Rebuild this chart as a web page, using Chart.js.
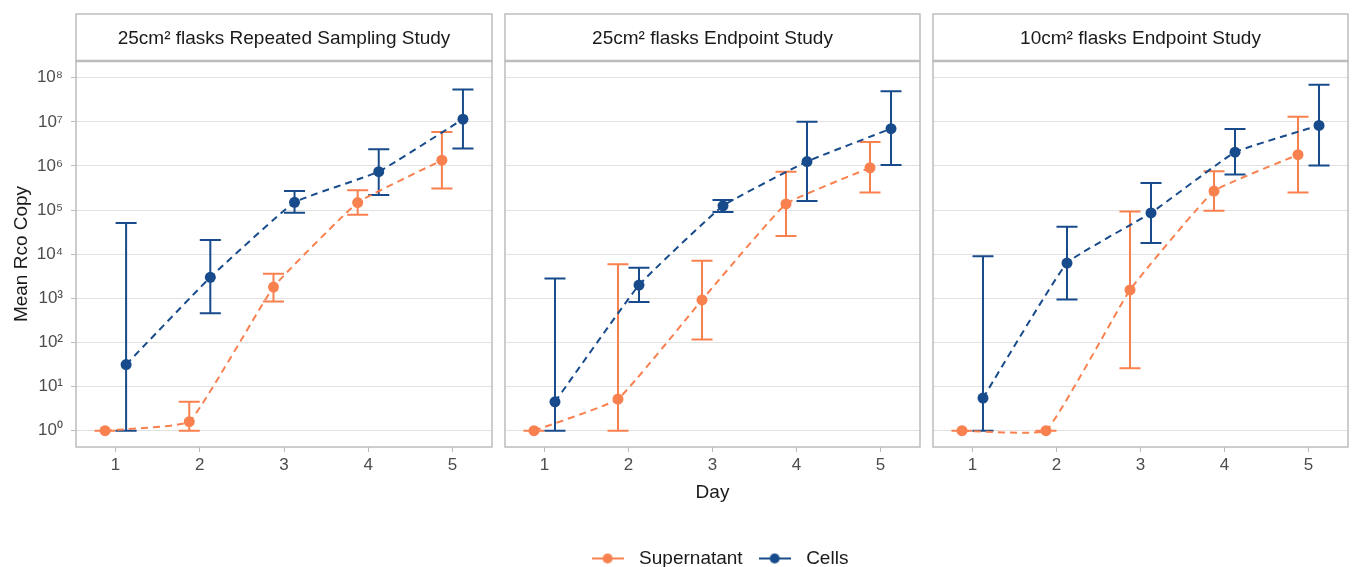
<!DOCTYPE html>
<html>
<head>
<meta charset="utf-8">
<script src="https://cdn.jsdelivr.net/npm/chart.js@4"></script>
<style>
html, body { margin: 0; padding: 0; background: #ffffff; overflow: hidden; width: 1354px; height: 567px; }
canvas { position: absolute; left: 0; top: 0; }
</style>
</head>
<body>
<canvas id="c1" width="1354" height="567"></canvas>
<canvas id="c2" width="1354" height="578"></canvas>
<canvas id="c3" width="1354" height="567"></canvas>
<script>
// ---------------- DATA ----------------
const days = [1, 2, 3, 4, 5];
const seriesNames = ["Supernatant", "Cells"];
const panelTitles = [
  "25cm\u00B2 flasks Repeated Sampling Study",
  "25cm\u00B2 flasks Endpoint Study",
  "10cm\u00B2 flasks Endpoint Study"
];
const yTickValues = [1, 10, 100, 1e3, 1e4, 1e5, 1e6, 1e7, 1e8];
const xTickValues = [1, 2, 3, 4, 5];
const xAxisTitle = "Day";
const yAxisTitle = "Mean Rco Copy";

// Panel 1: 25cm2 flasks Repeated Sampling Study
const p1SupMean  = [1, 1.6, 1800, 1.48e5, 1.35e6];
const p1SupLow   = [1, 1, 850, 7.8e4, 3.1e5];
const p1SupHigh  = [1, 4.5, 3600, 2.8e5, 5.9e6];
const p1CellMean = [31.6, 3000, 1.5e5, 7.4e5, 1.15e7];
const p1CellLow  = [1, 460, 8.7e4, 2.2e5, 2.5e6];
const p1CellHigh = [5.1e4, 2.1e4, 2.7e5, 2.4e6, 5.4e7];

// Panel 2: 25cm2 flasks Endpoint Study
const p2SupMean  = [1, 5.2, 920, 1.38e5, 9.1e5];
const p2SupLow   = [1, 1, 116, 2.6e4, 2.5e5];
const p2SupHigh  = [1, 5900, 7100, 7.4e5, 3.5e6];
const p2CellMean = [4.5, 2000, 1.25e5, 1.26e6, 7.0e6];
const p2CellLow  = [1, 830, 9.1e4, 1.6e5, 1.05e6];
const p2CellHigh = [2800, 4900, 1.7e5, 1.0e7, 4.9e7];

// Panel 3: 10cm2 flasks Endpoint Study
const p3SupMean  = [1, 1, 1550, 2.7e5, 1.8e6];
const p3SupLow   = [1, 1, 26, 9.6e4, 2.5e5];
const p3SupHigh  = [1, 1, 9.3e4, 7.6e5, 1.3e7];
const p3CellMean = [5.5, 6300, 8.6e4, 2.05e6, 8.3e6];
const p3CellLow  = [1, 940, 1.8e4, 6.4e5, 1.02e6];
const p3CellHigh = [9000, 4.2e4, 4.1e5, 6.9e6, 6.9e7];

// ---------------- STYLE / LAYOUT ----------------
const FONT = "'Liberation Sans', Arial, Helvetica, sans-serif";
const COLORS = ["#F9804F", "#174B8B"];
const DODGE = [-0.125, 0.125];
const CAP_HALF = 0.125;
const X_MIN = 0.53, X_MAX = 5.47;
const Y_MIN = 0.427, Y_MAX = 2.39e8;
const W = 1354, H = 567;
const PANEL_LEFT = [76, 505, 933];
const PANEL_RIGHT = [492, 920, 1348];
const STRIP_TOP = 14, PLOT_TOP = 61, PLOT_BOTTOM = 447;
const FRAME_COLOR = "#bdbdbd";
const GRID_COLOR = "#e2e2e2";
const TICK_TEXT = "#4d4d4d";
const TITLE_TEXT = "#1a1a1a";

const panels = [
  { title: panelTitles[0], series: [
    { mean: p1SupMean, low: p1SupLow, high: p1SupHigh },
    { mean: p1CellMean, low: p1CellLow, high: p1CellHigh } ] },
  { title: panelTitles[1], series: [
    { mean: p2SupMean, low: p2SupLow, high: p2SupHigh },
    { mean: p2CellMean, low: p2CellLow, high: p2CellHigh } ] },
  { title: panelTitles[2], series: [
    { mean: p3SupMean, low: p3SupLow, high: p3SupHigh },
    { mean: p3CellMean, low: p3CellLow, high: p3CellHigh } ] }
];

const SUP = { "0": "\u2070", "1": "\u00B9", "2": "\u00B2", "3": "\u00B3", "4": "\u2074",
              "5": "\u2075", "6": "\u2076", "7": "\u2077", "8": "\u2078", "9": "\u2079", "-": "\u207B" };
function powLabel(v) {
  const e = Math.round(Math.log10(v));
  return "10" + String(e).split("").map(c => SUP[c]).join("");
}

function makeIcon(color) {
  const c = document.createElement("canvas");
  c.width = 32; c.height = 12;
  const g = c.getContext("2d");
  g.strokeStyle = color; g.lineWidth = 2;
  g.beginPath(); g.moveTo(0, 6); g.lineTo(32, 6); g.stroke();
  g.fillStyle = color;
  g.beginPath(); g.arc(16, 6, 5, 0, Math.PI * 2); g.fill();
  return c;
}
const legendIcons = COLORS.map(makeIcon);

function framePlugin(panel) {
  return {
    id: "frameAndErrors",
    beforeDatasetsDraw(chart) {
      const { ctx, chartArea: a, scales: { x, y } } = chart;
      ctx.save();
      // panel border
      ctx.strokeStyle = FRAME_COLOR; ctx.lineWidth = 1.5;
      ctx.strokeRect(a.left, a.top, a.right - a.left, a.bottom - a.top);
      // strip
      ctx.fillStyle = "#ffffff";
      ctx.fillRect(a.left, STRIP_TOP, a.right - a.left, a.top - STRIP_TOP);
      ctx.strokeRect(a.left, STRIP_TOP, a.right - a.left, a.top - STRIP_TOP);
      ctx.beginPath(); ctx.lineWidth = 2.5; ctx.moveTo(a.left, a.top); ctx.lineTo(a.right, a.top); ctx.stroke();
      ctx.fillStyle = TITLE_TEXT;
      ctx.font = "19px " + FONT;
      ctx.textAlign = "center"; ctx.textBaseline = "middle";
      ctx.fillText(panel.title, (a.left + a.right) / 2, (STRIP_TOP + a.top) / 2 + 1);
      // error bars
      ctx.lineWidth = 2;
      panel.series.forEach((s, si) => {
        ctx.strokeStyle = COLORS[si];
        days.forEach((d, i) => {
          const xv = d + DODGE[si];
          const xc = x.getPixelForValue(xv);
          const xl = x.getPixelForValue(xv - CAP_HALF);
          const xr = x.getPixelForValue(xv + CAP_HALF);
          const yl = y.getPixelForValue(s.low[i]);
          const yh = y.getPixelForValue(s.high[i]);
          ctx.beginPath();
          ctx.moveTo(xc, yl); ctx.lineTo(xc, yh);
          ctx.moveTo(xl, yl); ctx.lineTo(xr, yl);
          ctx.moveTo(xl, yh); ctx.lineTo(xr, yh);
          ctx.stroke();
        });
      });
      ctx.restore();
    }
  };
}

function buildChart(canvasId, pi) {
  const panel = panels[pi];
  const isFirst = pi === 0, isMid = pi === 1;
  const datasets = panel.series.map((s, si) => ({
    label: seriesNames[si],
    data: days.map((d, i) => ({ x: d + DODGE[si], y: s.mean[i] })),
    borderColor: COLORS[si],
    backgroundColor: COLORS[si],
    borderWidth: 2,
    borderDash: [7, 5],
    tension: 0.1,
    pointRadius: 5.5,
    pointHoverRadius: 5.5,
    pointBorderWidth: 0,
    pointBackgroundColor: COLORS[si],
    order: si === 0 ? 2 : 1
  }));

  let padding;
  if (isFirst) padding = { left: 0, right: W - PANEL_RIGHT[0], top: PLOT_TOP, bottom: H - PLOT_BOTTOM - 40 };
  else if (isMid) padding = { left: PANEL_LEFT[1], right: 425, top: PLOT_TOP, bottom: 0 };
  else padding = { left: PANEL_LEFT[2], right: W - PANEL_RIGHT[2], top: PLOT_TOP, bottom: H - PLOT_BOTTOM - 40 };

  const yAxisWidth = isFirst ? PANEL_LEFT[0] : (isMid ? (W - 425 - PANEL_RIGHT[1]) : 0);

  return new Chart(document.getElementById(canvasId), {
    type: "line",
    data: { datasets },
    options: {
      responsive: false,
      animation: false,
      events: [],
      layout: { padding },
      scales: {
        x: {
          type: "linear",
          min: X_MIN, max: X_MAX,
          afterBuildTicks: (sc) => { sc.ticks = xTickValues.map(v => ({ value: v })); },
          afterFit: (sc) => { sc.height = isMid ? (539 - PLOT_BOTTOM) : 40; },
          ticks: { color: TICK_TEXT, font: { size: 17, family: FONT }, padding: 3,
                   callback: (v) => String(v), maxRotation: 0, autoSkip: false },
          grid: { display: true, drawOnChartArea: false, drawTicks: true, tickLength: 5,
                  tickColor: FRAME_COLOR, tickWidth: 1 },
          border: { display: false },
          title: { display: isMid, text: xAxisTitle, color: TITLE_TEXT,
                   font: { size: 19, family: FONT }, padding: { top: 0, bottom: 35 } }
        },
        y: {
          type: "logarithmic",
          position: isMid ? "right" : "left",
          min: Y_MIN, max: Y_MAX,
          afterBuildTicks: (sc) => { sc.ticks = yTickValues.map(v => ({ value: v })); },
          afterFit: (sc) => { sc.width = yAxisWidth; },
          ticks: { display: isFirst, color: TICK_TEXT, font: { size: 17, family: FONT }, padding: 8,
                   callback: (v) => powLabel(v), autoSkip: false },
          grid: { display: true, color: GRID_COLOR, lineWidth: 1, drawTicks: isFirst, tickLength: 5,
                  tickColor: FRAME_COLOR },
          border: { display: false },
          title: { display: isFirst, text: yAxisTitle, color: TITLE_TEXT,
                   font: { size: 19, family: FONT }, padding: { top: 10, bottom: 0 } }
        }
      },
      plugins: {
        tooltip: { enabled: false },
        legend: {
          display: isMid,
          position: "bottom",
          labels: {
            usePointStyle: true,
            pointStyleWidth: 44,
            padding: 10,
            color: TITLE_TEXT,
            font: { size: 19, family: FONT },
            sort: (a, b) => a.datasetIndex - b.datasetIndex,
            generateLabels: (chart) => {
              const items = Chart.defaults.plugins.legend.labels.generateLabels(chart);
              items.forEach(it => { it.pointStyle = legendIcons[it.datasetIndex]; it.lineWidth = 0; });
              return items;
            }
          }
        }
      }
    },
    plugins: [framePlugin(panel)]
  });
}

buildChart("c1", 0);
buildChart("c2", 1);
buildChart("c3", 2);
</script>
</body>
</html>
